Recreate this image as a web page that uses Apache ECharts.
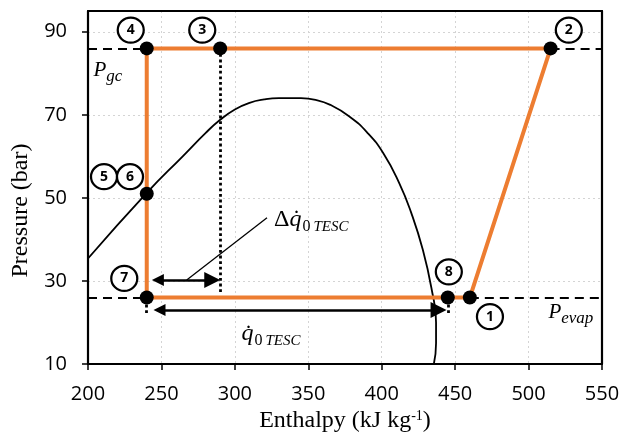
<!DOCTYPE html>
<html>
<head>
<meta charset="utf-8">
<script src="https://cdn.jsdelivr.net/npm/echarts@6/dist/echarts.min.js"></script>
<style>html,body{margin:0;padding:0;background:#fff}#c{width:622px;height:432px}</style>
</head>
<body>
<div id="c"></div>
<script>
// Axis settings
const xMin = 200, xMax = 550, xStep = 50;
const yMin = 10, yMax = 95, yStep = 20;
const yTicks = [10, 30, 50, 70, 90];

// Saturation dome (enthalpy kJ/kg, pressure bar)
const domeH = [200, 240, 265, 280, 290, 300, 310, 320, 330, 345, 355, 365, 378, 390, 401, 412, 420, 428, 434, 437, 437, 435.5];
const domeP = [35.4, 51.2, 60.2, 65.6, 68.8, 71.3, 72.9, 73.7, 74, 74, 73.6, 72.4, 69.6, 65.8, 60.8, 53.5, 46.5, 37.5, 28, 20, 15, 10];

// Refrigeration cycle 1-2-3-4-6-7-8-1
const cycleH = [460, 515, 290, 240, 240, 240, 445, 460];
const cycleP = [26, 86, 86, 86, 51, 26, 26, 26];

// State points (1,2,3,4,6,7,8)
const stateH = [460, 515, 290, 240, 240, 240, 445];
const stateP = [26, 86, 86, 86, 51, 26, 26];

// Numbered state labels
const labelText = ['1', '2', '3', '4', '5', '6', '7', '8'];
const labelH = [473.7, 527.4, 277.8, 229.1, 210.9, 228.6, 224.7, 445.7];
const labelP = [21.4, 90.4, 90.4, 90.4, 55.1, 55.1, 30.6, 32.2];

// Pressure levels
const pGc = 86, pEvap = 26;

// Heat quantities
const hTescLeft = 240, hTescRight = 290, hEvapEnd = 445;
const pDeltaArrow = 30.2, pQArrow = 23;

const toPairs = (a, b) => a.map((v, i) => [v, b[i]]);

const chart = echarts.init(document.getElementById('c'), null, {renderer: 'canvas'});

const serif = 'Liberation Serif';
const mathRich = {
  p: {fontFamily: serif, fontStyle: 'italic', fontSize: 21, color: '#000'},
  s: {fontFamily: serif, fontStyle: 'italic', fontSize: 17, color: '#000', verticalAlign: 'bottom', padding: [11, 0, 0, 0]},
  d: {fontFamily: serif, fontSize: 24, color: '#000'},
  q: {fontFamily: serif, fontStyle: 'italic', fontSize: 24, color: '#000'},
  z: {fontFamily: serif, fontSize: 16, color: '#000', verticalAlign: 'bottom', padding: [14, 3, 0, 1]},
  t: {fontFamily: serif, fontStyle: 'italic', fontSize: 15, color: '#000', verticalAlign: 'bottom', padding: [15, 0, 0, 0]}
};

const textPoint = (h, p, text) => ({
  value: [h, p],
  label: {show: true, position: 'inside', formatter: text, rich: mathRich, opacity: 1}
});

chart.setOption({
  animation: false,
  grid: {left: 88, top: 11, width: 514, height: 353, containLabel: false, outerBoundsMode: 'none'},
  xAxis: [{
    type: 'value', min: xMin, max: xMax, interval: xStep, position: 'bottom',
    axisLine: {show: true, onZero: false, lineStyle: {color: '#000', width: 2.2}},
    axisTick: {show: true, inside: false, length: 6, lineStyle: {color: '#000', width: 1.5}},
    axisLabel: {color: '#000', fontSize: 20, fontFamily: 'Open Sans', margin: 20},
    splitLine: {show: true, lineStyle: {color: '#d4d4d4', type: [2, 3], width: 1}},
    name: '{a|Enthalpy (kJ kg}{s|-1}{a|)}',
    nameLocation: 'middle', nameGap: 44,
    nameTextStyle: {rich: {
      a: {fontFamily: serif, fontSize: 24, color: '#000'},
      s: {fontFamily: serif, fontSize: 14, color: '#000', padding: [0, 0, 10, 0]}
    }}
  }, {
    type: 'value', min: xMin, max: xMax, position: 'top',
    axisLine: {show: true, onZero: false, lineStyle: {color: '#000', width: 2.2}},
    axisTick: {show: false}, axisLabel: {show: false}, splitLine: {show: false}
  }],
  yAxis: [{
    type: 'value', min: yMin, max: yMax, interval: yStep, position: 'left',
    axisLine: {show: true, onZero: false, lineStyle: {color: '#000', width: 2.2}},
    axisTick: {show: true, inside: false, length: 6, lineStyle: {color: '#000', width: 1.5}, customValues: yTicks},
    axisLabel: {color: '#000', fontSize: 20, fontFamily: 'Open Sans', margin: 21, customValues: yTicks},
    splitLine: {show: true, lineStyle: {color: '#d4d4d4', type: [2, 3], width: 1}},
    name: 'Pressure (bar)', nameLocation: 'middle', nameGap: 55,
    nameTextStyle: {fontFamily: serif, fontSize: 24, color: '#000', padding: [0, 46, 0, 0]}
  }, {
    type: 'value', min: yMin, max: yMax, position: 'right',
    axisLine: {show: true, onZero: false, lineStyle: {color: '#000', width: 2.2}},
    axisTick: {show: false}, axisLabel: {show: false}, splitLine: {show: false}
  }],
  series: [
    {
      name: 'dome', type: 'line', data: toPairs(domeH, domeP), smooth: 0.5,
      showSymbol: false, symbol: 'none', lineStyle: {color: '#000', width: 1.8}, z: 2
    },
    {
      name: 'pressure levels', type: 'lines', coordinateSystem: 'cartesian2d', z: 2,
      lineStyle: {color: '#000', width: 2.2, type: [9, 6], opacity: 1}, symbol: 'none',
      data: [
        {coords: [[xMin, pGc], [cycleH[3], pGc]]},
        {coords: [[cycleH[1], pGc], [xMax, pGc]]},
        {coords: [[xMin, pEvap], [cycleH[5], pEvap]]},
        {coords: [[cycleH[0], pEvap], [xMax, pEvap]]}
      ]
    },
    {
      name: 'dotted', type: 'lines', coordinateSystem: 'cartesian2d', z: 2,
      lineStyle: {color: '#000', width: 2.8, type: [2.8, 2.8], opacity: 1}, symbol: 'none',
      data: [
        {coords: [[hTescRight, pGc], [hTescRight, 27]]},
        {coords: [[hTescLeft, 24.3], [hTescLeft, 21.6]]},
        {coords: [[hEvapEnd, 24.3], [hEvapEnd, 21.6]]}
      ]
    },
    {
      name: 'cycle', type: 'line', data: toPairs(cycleH, cycleP), showSymbol: false, symbol: 'none',
      lineStyle: {color: '#ED7D31', width: 4}, z: 3
    },
    {
      name: 'states', type: 'scatter', data: toPairs(stateH, stateP), symbolSize: 14,
      itemStyle: {color: '#000', opacity: 1}, z: 4
    },
    {
      name: 'arrows', type: 'lines', coordinateSystem: 'cartesian2d', z: 4,
      lineStyle: {color: '#000', width: 2.5, opacity: 1}, symbol: ['triangle', 'triangle'], symbolSize: [12, 16],
      data: [
        {coords: [[hTescLeft + 7.6, pDeltaArrow], [hTescRight - 5.4, pDeltaArrow]]},
        {coords: [[hTescLeft + 8.7, pQArrow], [hEvapEnd - 6.3, pQArrow]]}
      ]
    },
    {
      name: 'leader', type: 'lines', coordinateSystem: 'cartesian2d', z: 4,
      lineStyle: {color: '#000', width: 1.3, opacity: 1}, symbol: 'none',
      data: [{coords: [[267.2, 30.2], [321.9, 45.2]]}]
    },
    {
      name: 'labels', type: 'scatter', data: toPairs(labelH, labelP).map((v, i) => ({value: v, name: labelText[i]})),
      symbol: 'circle', symbolSize: [26, 25], z: 5,
      itemStyle: {color: '#fff', borderColor: '#000', borderWidth: 2.2, opacity: 1},
      label: {show: true, position: 'inside', formatter: '{b}', color: '#000', fontWeight: 'bold', fontSize: 14, fontFamily: 'Open Sans'}
    },
    {
      name: 'text', type: 'scatter', symbolSize: 0, z: 6, silent: true,
      itemStyle: {opacity: 1},
      data: [
        textPoint(213.6, 80.6, '{p|P}{s|gc}'),
        textPoint(528.8, 22.3, '{p|P}{s|evap}'),
        textPoint(352, 44.8, '{d|Δ}{q|q̇}{z|0}{t|TESC}'),
        textPoint(324.6, 17.3, '{q|q̇}{z|0}{t|TESC}')
      ]
    }
  ]
});
</script>
</body>
</html>
